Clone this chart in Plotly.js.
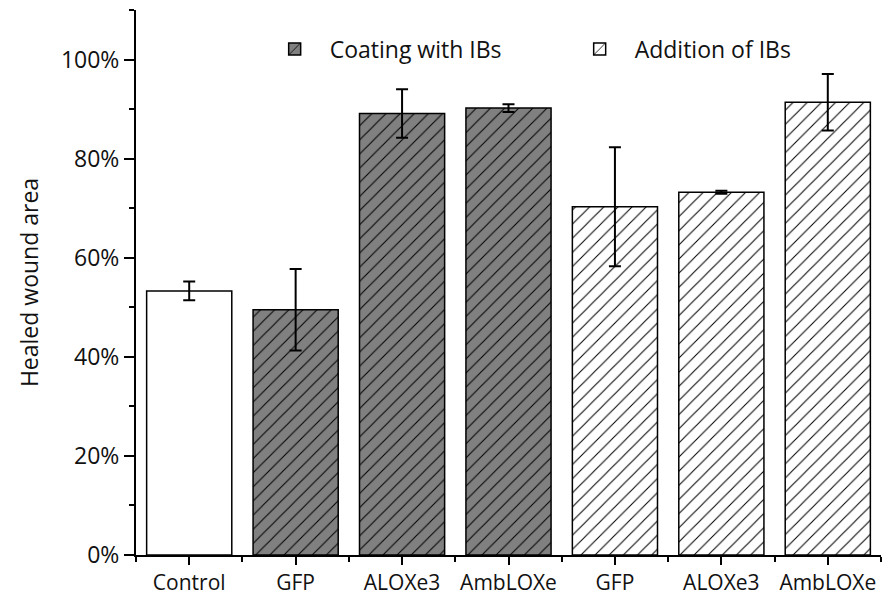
<!DOCTYPE html>
<html>
<head>
<meta charset="utf-8">
<script src="https://cdn.plot.ly/plotly-3.0.1.min.js"></script>
<style>html,body{margin:0;padding:0;background:#fff;}#chart{width:888px;height:598px;}</style>
</head>
<body>
<div id="chart"></div>
<script>
// Data
const tickLabels = ["Control", "GFP", "ALOXe3", "AmbLOXe", "GFP", "ALOXe3", "AmbLOXe"];
const yTickVals = [0, 20, 40, 60, 80, 100];
const yTickLabels = ["0%", "20%", "40%", "60%", "80%", "100%"];
const controlX = [0];
const controlVals = [53.3];
const controlErr = [1.9];
const coatingX = [1, 2, 3];
const coatingVals = [49.5, 89.1, 90.2];
const coatingErr = [8.2, 4.9, 0.8];
const additionX = [4, 5, 6];
const additionVals = [70.3, 73.2, 91.4];
const additionErr = [12.0, 0.3, 5.7];
const legendNames = ["Coating with IBs", "Addition of IBs"];

const FONT = "Open Sans, Noto Sans, sans-serif";
const errStyle = {type: 'data', visible: true, color: '#000', thickness: 2, width: 6};

const traces = [
  {
    type: 'bar', x: controlX, y: controlVals, width: 0.8, showlegend: false,
    marker: {color: '#ffffff', line: {color: '#000', width: 1.5}},
    error_y: Object.assign({array: controlErr}, errStyle)
  },
  {
    type: 'bar', x: coatingX, y: coatingVals, width: 0.8, name: legendNames[0],
    marker: {color: '#808080', line: {color: '#000', width: 1.5},
      pattern: {shape: '/', bgcolor: '#808080', fgcolor: '#000', size: 10, solidity: 0.1}},
    error_y: Object.assign({array: coatingErr}, errStyle)
  },
  {
    type: 'bar', x: additionX, y: additionVals, width: 0.8, name: legendNames[1],
    marker: {color: '#ffffff', line: {color: '#000', width: 1.5},
      pattern: {shape: '/', bgcolor: '#ffffff', fgcolor: '#000', size: 10, solidity: 0.1}},
    error_y: Object.assign({array: additionErr}, errStyle)
  }
];

const layout = {
  width: 888, height: 598,
  margin: {l: 136, r: 7, t: 10, b: 43},
  paper_bgcolor: '#fff', plot_bgcolor: '#fff',
  barmode: 'overlay',
  font: {family: FONT, size: 22, color: '#111'},
  xaxis: {
    range: [-0.5, 6.5], tickmode: 'array', tickvals: [0,1,2,3,4,5,6], ticktext: tickLabels,
    showline: true, linecolor: '#000', linewidth: 2, showgrid: false, zeroline: false,
    ticks: 'outside', ticklen: 8, tickwidth: 2, tickcolor: '#000',
    tickfont: {family: FONT, size: 21, color: '#111'},
    minor: {tickmode: 'linear', tick0: 0.5, dtick: 1, ticks: 'outside', ticklen: 5, tickwidth: 2, tickcolor: '#000', showgrid: false}
  },
  yaxis: {
    range: [0, 110], tickmode: 'array', tickvals: yTickVals, ticktext: yTickLabels,
    showline: true, linecolor: '#000', linewidth: 2, showgrid: false, zeroline: false,
    ticks: 'outside', ticklen: 10, tickwidth: 2, tickcolor: '#000',
    tickfont: {family: FONT, size: 23, color: '#111'},
    minor: {tickmode: 'linear', tick0: 10, dtick: 20, ticks: 'outside', ticklen: 5, tickwidth: 2, tickcolor: '#000', showgrid: false},
    title: {text: 'Healed wound area', font: {family: FONT, size: 23, color: '#111'}, standoff: 16}
  },
  legend: {
    orientation: 'h', x: 0.166, y: 0.968, xanchor: 'left', yanchor: 'top',
    font: {family: FONT, size: 23, color: '#111'}, bgcolor: 'rgba(0,0,0,0)',
    itemwidth: 60, entrywidth: 230, traceorder: 'normal'
  },
  showlegend: true
};

Plotly.newPlot('chart', traces, layout, {displayModeBar: false, staticPlot: true});
</script>
</body>
</html>
